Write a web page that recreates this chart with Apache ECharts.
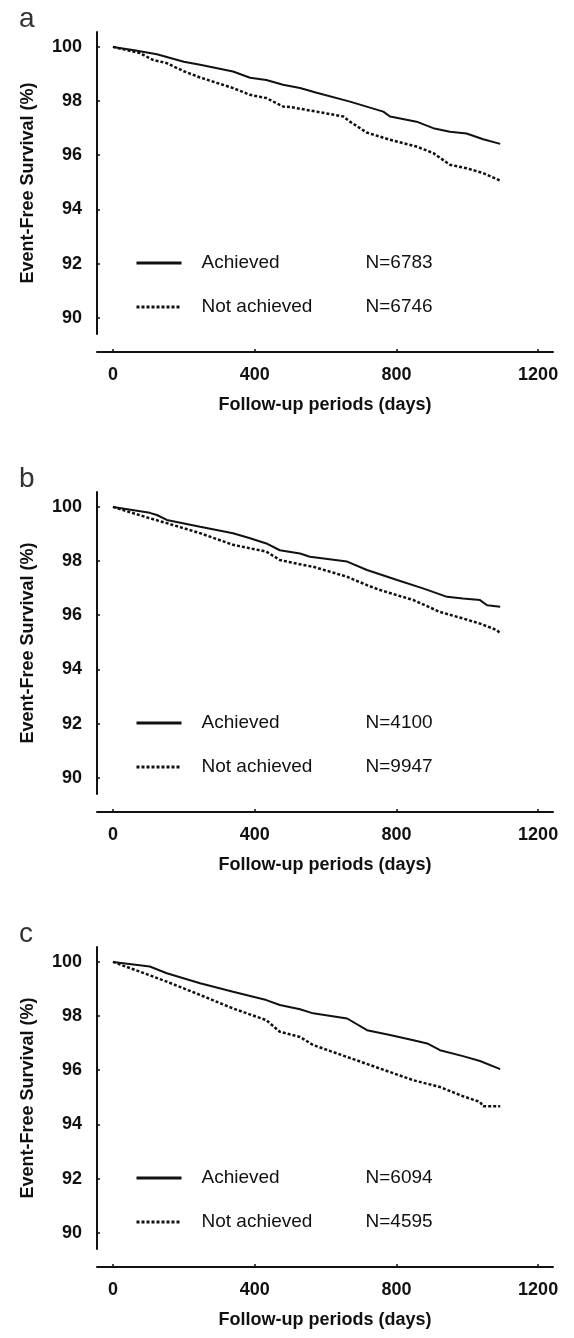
<!DOCTYPE html>
<html>
<head>
<meta charset="utf-8">
<script src="https://cdn.jsdelivr.net/npm/echarts@6/dist/echarts.min.js"></script>
</head>
<body style="margin:0;background:#fff">
<div id="main" style="width:574px;height:1338px"></div>
<script>
// panel letters and group sizes
var panels = ['a', 'b', 'c'];
var nAchieved = [6783, 4100, 6094];
var nNotAchieved = [6746, 9947, 4595];

var yTicks = [90, 92, 94, 96, 98, 100];
var xTicks = [0, 400, 800, 1200];

// panel a
var aAchDays = [0, 60, 124, 200, 246, 339, 387, 433, 480, 528, 575, 669, 763, 782, 857, 904, 951, 998, 1045, 1093];
var aAchVals = [100, 99.88, 99.73, 99.45, 99.34, 99.09, 98.86, 98.78, 98.6, 98.48, 98.31, 97.98, 97.61, 97.43, 97.24, 97.0, 96.87, 96.8, 96.59, 96.42];
var aNotDays = [0, 76, 113, 152, 200, 246, 339, 387, 433, 480, 500, 575, 650, 669, 716, 782, 857, 904, 951, 998, 1045, 1093];
var aNotVals = [100, 99.77, 99.52, 99.4, 99.1, 98.87, 98.48, 98.23, 98.11, 97.8, 97.78, 97.61, 97.43, 97.24, 96.84, 96.57, 96.32, 96.08, 95.65, 95.52, 95.34, 95.06];

// panel b
var bAchDays = [0, 104, 124, 152, 246, 339, 387, 433, 471, 528, 556, 661, 717, 802, 875, 943, 988, 1036, 1056, 1093];
var bAchVals = [100, 99.78, 99.7, 99.52, 99.27, 99.03, 98.84, 98.65, 98.4, 98.28, 98.16, 97.98, 97.67, 97.3, 96.99, 96.68, 96.62, 96.56, 96.37, 96.31];
var bNotDays = [0, 104, 152, 246, 339, 433, 471, 528, 565, 661, 717, 754, 848, 923, 988, 1036, 1084, 1093];
var bNotVals = [100, 99.58, 99.4, 99.03, 98.6, 98.35, 98.04, 97.88, 97.79, 97.42, 97.11, 96.93, 96.56, 96.12, 95.88, 95.69, 95.45, 95.33];

// panel c
var cAchDays = [0, 104, 152, 246, 339, 433, 471, 528, 565, 661, 717, 782, 848, 887, 923, 988, 1036, 1093];
var cAchVals = [100, 99.83, 99.58, 99.21, 98.9, 98.59, 98.41, 98.25, 98.1, 97.91, 97.48, 97.3, 97.11, 96.99, 96.74, 96.52, 96.34, 96.04];
var cNotDays = [0, 76, 152, 246, 339, 433, 471, 528, 565, 661, 754, 848, 923, 988, 1036, 1045, 1093];
var cNotVals = [100, 99.64, 99.27, 98.78, 98.28, 97.85, 97.42, 97.23, 96.93, 96.49, 96.06, 95.63, 95.38, 95.04, 94.83, 94.67, 94.67];

var achDays = [aAchDays, bAchDays, cAchDays];
var achVals = [aAchVals, bAchVals, cAchVals];
var notDays = [aNotDays, bNotDays, cNotDays];
var notVals = [aNotVals, bNotVals, cNotVals];

function pairs(xs, ys) {
  var out = [];
  for (var i = 0; i < xs.length; i++) out.push([xs[i], ys[i]]);
  return out;
}

var ink = '#111';
var font = 'Liberation Sans, Arial, sans-serif';
var gridTops = [32, 492, 947];

var option = {
  animation: false,
  backgroundColor: '#fff',
  title: [],
  grid: [],
  xAxis: [],
  yAxis: [],
  legend: [],
  series: []
};

panels.forEach(function (p, i) {
  var top = gridTops[i];
  option.title.push({
    text: p,
    left: 14,
    top: top - 32,
    textStyle: { fontFamily: font, fontSize: 28, fontWeight: 'normal', color: '#333' }
  });
  option.grid.push({ left: 97, top: top, width: 456, height: 302 });
  option.xAxis.push({
    type: 'value',
    gridIndex: i,
    min: -45,
    max: 1242,
    offset: 18,
    name: 'Follow-up periods (days)',
    nameLocation: 'middle',
    nameGap: 44,
    nameTextStyle: { fontFamily: font, fontSize: 18, fontWeight: 'bold', color: ink },
    axisLine: { onZero: false, lineStyle: { color: ink, width: 2 } },
    axisTick: { inside: true, length: 3, customValues: xTicks, lineStyle: { color: ink, width: 1.5 } },
    axisLabel: {
      customValues: xTicks, margin: 14, fontFamily: font, fontSize: 18, fontWeight: 'bold', color: ink,
      formatter: function (v) { return String(v); }
    },
    splitLine: { show: false }
  });
  option.yAxis.push({
    type: 'value',
    gridIndex: i,
    min: 89.4,
    max: 100.55,
    name: 'Event-Free Survival (%)',
    nameLocation: 'middle',
    nameGap: 60,
    nameTextStyle: { fontFamily: font, fontSize: 18, fontWeight: 'bold', color: ink },
    axisLine: { show: true, onZero: false, lineStyle: { color: ink, width: 2 } },
    axisTick: { show: true, inside: true, length: 3, customValues: yTicks, lineStyle: { color: ink, width: 1.5 } },
    axisLabel: { customValues: yTicks, margin: 15, fontFamily: font, fontSize: 18, fontWeight: 'bold', color: ink },
    splitLine: { show: false }
  });
  option.legend.push({
    orient: 'vertical',
    left: 130,
    top: top + 214,
    itemWidth: 45,
    itemHeight: 14,
    itemGap: 20,
    selectedMode: false,
    itemStyle: { color: 'rgba(0,0,0,0)', borderWidth: 0 },
    lineStyle: { width: 3 },
    data: ['Achieved', 'Not achieved'],
    formatter: function (name) {
      var n = name === 'Achieved' ? nAchieved[i] : nNotAchieved[i];
      return '{t|' + name + '}{n|N=' + n + '}';
    },
    textStyle: {
      fontFamily: font,
      fontSize: 19,
      color: ink,
      lineHeight: 24,
      rich: {
        t: { fontFamily: font, fontSize: 19, color: ink, width: 164, padding: [0, 0, 0, 15] },
        n: { fontFamily: font, fontSize: 19, color: ink }
      }
    }
  });
  option.series.push({
    name: 'Achieved',
    type: 'line',
    xAxisIndex: i,
    yAxisIndex: i,
    symbol: 'none',
    data: pairs(achDays[i], achVals[i]),
    lineStyle: { color: ink, width: 2 },
    itemStyle: { color: ink }
  });
  option.series.push({
    name: 'Not achieved',
    type: 'line',
    xAxisIndex: i,
    yAxisIndex: i,
    symbol: 'none',
    data: pairs(notDays[i], notVals[i]),
    lineStyle: { color: ink, width: 2.5, type: [3, 2] },
    itemStyle: { color: ink }
  });
});

var chart = echarts.init(document.getElementById('main'), null, { renderer: 'canvas' });
chart.setOption(option);
</script>
</body>
</html>
